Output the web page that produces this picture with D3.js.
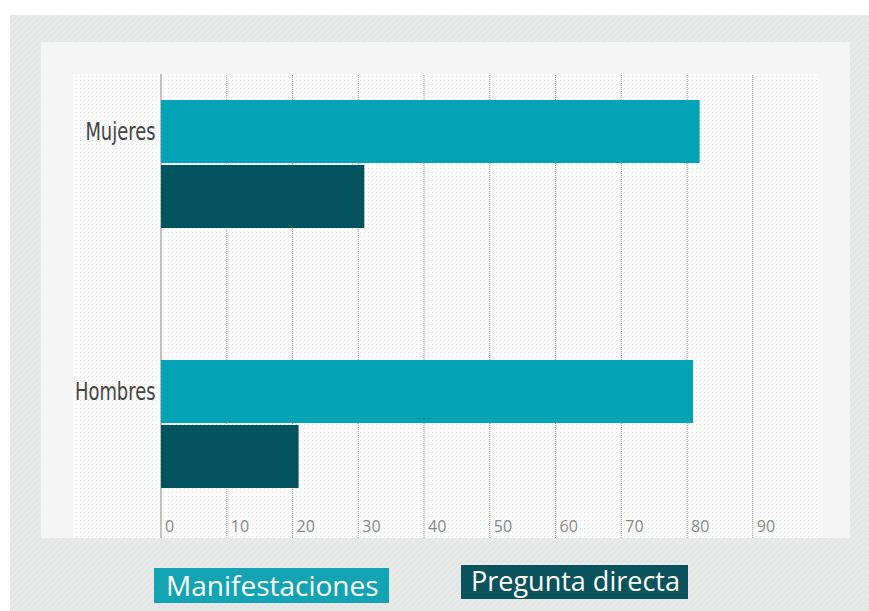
<!DOCTYPE html>
<html><head><meta charset="utf-8">
<script src="https://cdn.jsdelivr.net/npm/d3@7"></script>
<style>html,body{margin:0;padding:0;background:#fff;}svg{display:block;}</style>
</head><body>
<script>
const categories = ["Mujeres", "Hombres"];
const seriesNames = ["Manifestaciones", "Pregunta directa"];
const manifestaciones = [82, 81];
const preguntaDirecta = [31, 21];
const tickValues = [0, 10, 20, 30, 40, 50, 60, 70, 80, 90];
const colors = ["#01a3b5", "#02535d"];
const legendColors = ["#12a4b3", "#0b535c"];

const data = categories.map((c, i) => ({cat: c, values: [manifestaciones[i], preguntaDirecta[i]]}));

const W = 869, H = 611;
const svg = d3.select("body").append("svg").attr("width", W).attr("height", H);
const defs = svg.append("defs");
const pat = defs.append("pattern").attr("id", "dots").attr("width", 4).attr("height", 4).attr("patternUnits", "userSpaceOnUse");
pat.append("rect").attr("width", 4).attr("height", 4).attr("fill", "#fbfbfb");
pat.append("rect").attr("width", 1).attr("height", 1).attr("fill", "#e2e2e2");
const pat2 = defs.append("pattern").attr("id", "diag").attr("width", 6).attr("height", 6).attr("patternUnits", "userSpaceOnUse");
pat2.append("rect").attr("width", 6).attr("height", 6).attr("fill", "#e5e7e7");
pat2.append("path").attr("d", "M0,6 L6,0").attr("stroke", "#eceeee").attr("stroke-width", 1);

// outer background
svg.append("rect").attr("x", 10).attr("y", 15).attr("width", W - 10).attr("height", H - 15).attr("fill", "url(#diag)");
// panel
svg.append("rect").attr("x", 41).attr("y", 42).attr("width", 809).attr("height", 496).attr("fill", "#f5f5f5");
// dotted grid area
svg.append("rect").attr("x", 73).attr("y", 74).attr("width", 745).attr("height", 464).attr("fill", "url(#dots)");

const x = d3.scaleLinear().domain([0, 100]).range([160.5, 818]);
const y = d3.scaleBand().domain(categories).range([74, 514]).paddingInner(132 / 260).paddingOuter(0.1);
const ys = d3.scaleBand().domain(seriesNames).range([0, y.bandwidth()]).paddingInner(0.03);

// gridlines
const grid = svg.append("g").attr("transform", "translate(0,538)")
  .call(d3.axisBottom(x).tickValues(tickValues).tickSize(-464).tickFormat(""));
grid.select(".domain").remove();
grid.selectAll(".tick line").attr("stroke", "#9a9a9a").attr("stroke-width", 1).attr("stroke-dasharray", "1,1");
grid.selectAll(".tick").filter(d => d === 0).select("line").attr("stroke", "#8a8a8a").attr("stroke-dasharray", null);

// bars
const groups = svg.append("g").selectAll("g").data(data).join("g")
  .attr("transform", d => `translate(0,${y(d.cat)})`);
groups.selectAll("rect").data(d => d.values.map((v, i) => ({v, s: seriesNames[i], i})))
  .join("rect")
  .attr("x", x(0) + 0.5)
  .attr("y", d => ys(d.s))
  .attr("height", ys.bandwidth())
  .attr("width", d => x(d.v) - x(0) - 0.5)
  .attr("fill", d => colors[d.i]);

// tick labels
const ax = svg.append("g").attr("transform", "translate(0,532)")
  .call(d3.axisBottom(x).tickValues(tickValues).tickSize(0).tickPadding(0));
ax.select(".domain").remove();
ax.selectAll(".tick text").attr("text-anchor", "start").attr("dx", 4).attr("dy", 0).attr("y", 0)
  .attr("fill", "#888888").style("font-family", "'Open Sans', sans-serif").style("font-size", "16px");

// category labels
const ay = svg.append("g").attr("transform", `translate(${x(0) - 5},0)`)
  .call(d3.axisLeft(y).tickSize(0).tickPadding(0));
ay.select(".domain").remove();
ay.selectAll(".tick").attr("transform", d => `translate(0,${y(d) + ys("Manifestaciones") + ys.bandwidth() / 2}) scale(0.83,1)`);
ay.selectAll(".tick text").attr("fill", "#444444").attr("dy", "0.35em")
  .style("font-family", "'DejaVu Sans Condensed', 'DejaVu Sans', sans-serif").style("font-size", "24px");

// legend
const legend = [
  {name: seriesNames[0], x: 154, y: 568, w: 235, h: 35, c: legendColors[0], tx: 166, ty: 596, fs: 28},
  {name: seriesNames[1], x: 461, y: 565, w: 227, h: 34, c: legendColors[1], tx: 471, ty: 591, fs: 27}
];
const lg = svg.append("g").selectAll("g").data(legend).join("g");
lg.append("rect").attr("x", d => d.x).attr("y", d => d.y).attr("width", d => d.w).attr("height", d => d.h).attr("fill", d => d.c);
lg.append("text").attr("x", d => d.tx).attr("y", d => d.ty).text(d => d.name)
  .attr("fill", "#ffffff").style("font-family", "'Open Sans', sans-serif").style("font-size", d => d.fs + "px");
</script>
</body></html>
